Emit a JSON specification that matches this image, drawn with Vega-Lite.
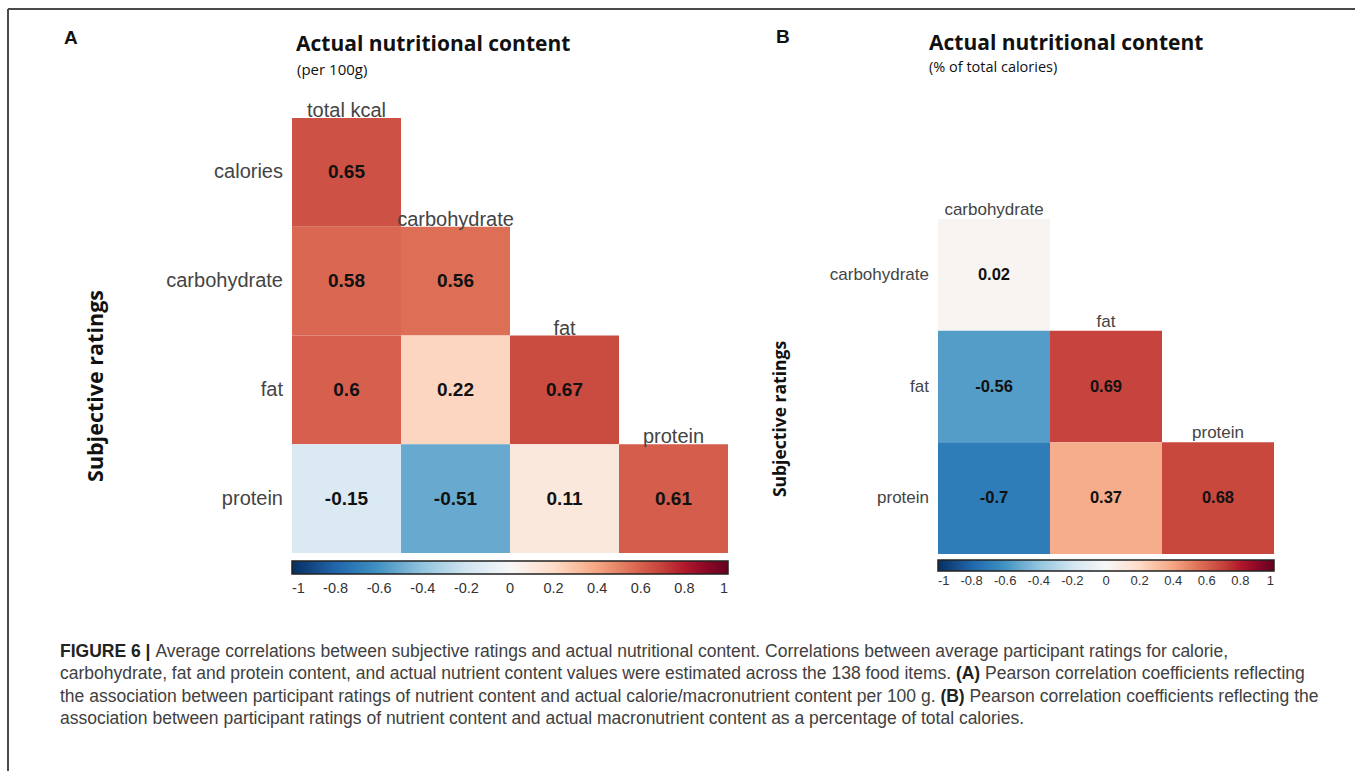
{
"$schema": "https://vega.github.io/schema/vega-lite/v6.json",
"width": 1355, "height": 771,
"autosize": {"type": "none"},
"padding": 0,
"background": "white",
"config": {"view": {"stroke": null}},
"datasets": {
 "cellsA": [
  {"row":"calories","col":"total kcal","r":0.65},
  {"row":"carbohydrate","col":"total kcal","r":0.58},
  {"row":"carbohydrate","col":"carbohydrate","r":0.56},
  {"row":"fat","col":"total kcal","r":0.6},
  {"row":"fat","col":"carbohydrate","r":0.22},
  {"row":"fat","col":"fat","r":0.67},
  {"row":"protein","col":"total kcal","r":-0.15},
  {"row":"protein","col":"carbohydrate","r":-0.51},
  {"row":"protein","col":"fat","r":0.11},
  {"row":"protein","col":"protein","r":0.61}
 ],
 "colsA": [
  {"col":"total kcal","row":"calories"},
  {"col":"carbohydrate","row":"carbohydrate"},
  {"col":"fat","row":"fat"},
  {"col":"protein","row":"protein"}
 ],
 "rowsA": [{"row":"calories"},{"row":"carbohydrate"},{"row":"fat"},{"row":"protein"}],
 "cellsB": [
  {"row":"carbohydrate","col":"carbohydrate","r":0.02},
  {"row":"fat","col":"carbohydrate","r":-0.56},
  {"row":"fat","col":"fat","r":0.69},
  {"row":"protein","col":"carbohydrate","r":-0.7},
  {"row":"protein","col":"fat","r":0.37},
  {"row":"protein","col":"protein","r":0.68}
 ],
 "colsB": [
  {"col":"carbohydrate","row":"carbohydrate"},
  {"col":"fat","row":"fat"},
  {"col":"protein","row":"protein"}
 ],
 "rowsB": [{"row":"carbohydrate"},{"row":"fat"},{"row":"protein"}],
 "caption": [
  {"line":1,"seg":"b","text":"FIGURE 6 |"},
  {"line":1,"seg":"c","text":"Average correlations between subjective ratings and actual nutritional content. Correlations between average participant ratings for calorie,"},
  {"line":2,"seg":"a","text":"carbohydrate, fat and protein content, and actual nutrient content values were estimated across the 138 food items."},
  {"line":2,"seg":"b","text":"(A)"},
  {"line":2,"seg":"c","text":"Pearson correlation coefficients reflecting"},
  {"line":3,"seg":"a","text":"the association between participant ratings of nutrient content and actual calorie/macronutrient content per 100 g."},
  {"line":3,"seg":"b","text":"(B)"},
  {"line":3,"seg":"c","text":"Pearson correlation coefficients reflecting the"},
  {"line":4,"seg":"a","text":"association between participant ratings of nutrient content and actual macronutrient content as a percentage of total calories."}
 ]
},
"layer": [
 {"data": {"values": [{}]}, "mark": {"type": "rule", "color": "#4a4a4a", "strokeWidth": 2},
  "encoding": {"x": {"value": 8}, "y": {"value": 9}, "y2": {"value": 771}}},
 {"data": {"values": [{}]}, "mark": {"type": "rule", "color": "#4a4a4a", "strokeWidth": 2},
  "encoding": {"y": {"value": 9}, "x": {"value": 8}, "x2": {"value": 1355}}},
 {
  "data": {"name": "cellsA"},
  "encoding": {
   "x": {"field": "col", "type": "nominal", "scale": {"domain": ["total kcal","carbohydrate","fat","protein"], "rangeMin": 292, "rangeMax": 728, "paddingInner": 0, "paddingOuter": 0}, "axis": null},
   "y": {"field": "row", "type": "nominal", "scale": {"domain": ["calories","carbohydrate","fat","protein"], "rangeMin": 118, "rangeMax": 553, "paddingInner": 0, "paddingOuter": 0}, "axis": null}
  },
  "layer": [
   {"mark": {"type": "rect"},
    "encoding": {"color": {"field": "r", "type": "quantitative",
      "scale": {"domain": [-1,-0.8,-0.6,-0.4,-0.2,0,0.2,0.4,0.6,0.8,1], "range": ["#053061","#2166AC","#4393C3","#92C5DE","#D1E5F0","#F7F7F7","#FDDBC7","#F4A582","#D6604D","#B2182B","#67001F"]},
      "legend": {"orient": "none", "legendX": 292, "legendY": 561, "direction": "horizontal", "gradientLength": 436, "gradientThickness": 13, "title": null, "padding": 0,
        "values": [-1,-0.8,-0.6,-0.4,-0.2,0,0.2,0.4,0.6,0.8,1], "labelExpr": "toString(datum.value)", "labelOverlap": false,
        "labelFont": "Liberation Sans", "labelFontSize": 14.5, "labelColor": "#333", "labelOffset": 8, "labelAlign": "center",
        "gradientStrokeColor": "#222", "gradientStrokeWidth": 1.5}}}},
   {"mark": {"type": "text", "font": "Liberation Sans", "fontSize": 19, "fontWeight": "bold", "color": "#111"},
    "encoding": {"text": {"field": "r", "type": "nominal"}}},
   {"data": {"name": "rowsA"},
    "mark": {"type": "text", "align": "right", "dx": -9, "font": "Liberation Sans", "fontSize": 20, "color": "#444"},
    "encoding": {"x": {"datum": "total kcal", "type": "nominal", "bandPosition": 0}, "text": {"field": "row", "type": "nominal"}}},
   {"data": {"name": "colsA"},
    "mark": {"type": "text", "baseline": "alphabetic", "dy": -1, "font": "Liberation Sans", "fontSize": 20, "color": "#444"},
    "encoding": {"y": {"field": "row", "type": "nominal", "bandPosition": 0}, "text": {"field": "col", "type": "nominal"}}}
  ]
 },
 {
  "data": {"name": "cellsB"},
  "encoding": {
   "x": {"field": "col", "type": "nominal", "scale": {"domain": ["carbohydrate","fat","protein"], "rangeMin": 938, "rangeMax": 1274, "paddingInner": 0, "paddingOuter": 0}, "axis": null},
   "y": {"field": "row", "type": "nominal", "scale": {"domain": ["carbohydrate","fat","protein"], "rangeMin": 219, "rangeMax": 554, "paddingInner": 0, "paddingOuter": 0}, "axis": null}
  },
  "layer": [
   {"mark": {"type": "rect"},
    "encoding": {"color": {"field": "r", "type": "quantitative",
      "scale": {"domain": [-1,-0.8,-0.6,-0.4,-0.2,0,0.2,0.4,0.6,0.8,1], "range": ["#053061","#2166AC","#4393C3","#92C5DE","#D1E5F0","#F7F7F7","#FDDBC7","#F4A582","#D6604D","#B2182B","#67001F"]},
      "legend": {"orient": "none", "legendX": 938, "legendY": 560, "direction": "horizontal", "gradientLength": 336, "gradientThickness": 11, "title": null, "padding": 0,
        "values": [-1,-0.8,-0.6,-0.4,-0.2,0,0.2,0.4,0.6,0.8,1], "labelExpr": "toString(datum.value)", "labelOverlap": false,
        "labelFont": "Liberation Sans", "labelFontSize": 13, "labelColor": "#333", "labelOffset": 4, "labelAlign": "center",
        "gradientStrokeColor": "#222", "gradientStrokeWidth": 1.5}}}},
   {"mark": {"type": "text", "font": "Liberation Sans", "fontSize": 16.5, "fontWeight": "bold", "color": "#111"},
    "encoding": {"text": {"field": "r", "type": "nominal"}}},
   {"data": {"name": "rowsB"},
    "mark": {"type": "text", "align": "right", "dx": -9, "font": "Liberation Sans", "fontSize": 17, "color": "#444"},
    "encoding": {"x": {"datum": "carbohydrate", "type": "nominal", "bandPosition": 0}, "text": {"field": "row", "type": "nominal"}}},
   {"data": {"name": "colsB"},
    "mark": {"type": "text", "baseline": "alphabetic", "dy": -4, "font": "Liberation Sans", "fontSize": 17, "color": "#444"},
    "encoding": {"y": {"field": "row", "type": "nominal", "bandPosition": 0}, "text": {"field": "col", "type": "nominal"}}}
  ]
 },
 {"data": {"values": [{}]}, "mark": {"type": "text", "text": "A", "x": 64, "y": 44, "align": "left", "baseline": "alphabetic", "font": "Liberation Sans", "fontSize": 19, "fontWeight": "bold", "color": "#111"}},
 {"data": {"values": [{}]}, "mark": {"type": "text", "text": "B", "x": 776, "y": 43, "align": "left", "baseline": "alphabetic", "font": "Liberation Sans", "fontSize": 19, "fontWeight": "bold", "color": "#111"}},
 {"data": {"values": [{}]}, "mark": {"type": "text", "text": "Actual nutritional content", "x": 296, "y": 51, "align": "left", "baseline": "alphabetic", "font": "Open Sans", "fontSize": 21, "fontWeight": "bold", "color": "#111"}},
 {"data": {"values": [{}]}, "mark": {"type": "text", "text": "(per 100g)", "x": 297, "y": 75, "align": "left", "baseline": "alphabetic", "font": "Open Sans", "fontSize": 15, "color": "#111"}},
 {"data": {"values": [{}]}, "mark": {"type": "text", "text": "Actual nutritional content", "x": 929, "y": 50, "align": "left", "baseline": "alphabetic", "font": "Open Sans", "fontSize": 21, "fontWeight": "bold", "color": "#111"}},
 {"data": {"values": [{}]}, "mark": {"type": "text", "text": "(% of total calories)", "x": 929, "y": 72, "align": "left", "baseline": "alphabetic", "font": "Open Sans", "fontSize": 14.5, "color": "#111"}},
 {"data": {"values": [{}]}, "mark": {"type": "text", "text": "Subjective ratings", "x": 97, "y": 386, "angle": 270, "align": "center", "baseline": "middle", "font": "Open Sans", "fontSize": 21.5, "fontWeight": "bold", "color": "#111"}},
 {"data": {"values": [{}]}, "mark": {"type": "text", "text": "Subjective ratings", "x": 781, "y": 419, "angle": 270, "align": "center", "baseline": "middle", "font": "Open Sans", "fontSize": 17.5, "fontWeight": "bold", "color": "#111"}},
 {
  "data": {"name": "caption"},
  "encoding": {
   "y": {"field": "line", "type": "ordinal", "scale": {"type": "point", "domain": [1,2,3,4], "rangeMin": 652, "rangeMax": 719, "padding": 0}, "axis": null},
   "text": {"field": "text", "type": "nominal"}
  },
  "layer": [
   {"transform": [{"filter": "datum.seg == 'a'"}],
    "mark": {"type": "text", "x": 60, "align": "left", "baseline": "middle", "font": "Liberation Sans", "fontSize": 17.5, "color": "#404040"}},
   {"transform": [{"filter": "datum.line == 1 && datum.seg == 'b'"}],
    "mark": {"type": "text", "x": 60, "align": "left", "baseline": "middle", "font": "Liberation Sans", "fontSize": 17.5, "fontWeight": "bold", "color": "#222"}},
   {"transform": [{"filter": "datum.line == 1 && datum.seg == 'c'"}],
    "mark": {"type": "text", "x": 155.4, "align": "left", "baseline": "middle", "font": "Liberation Sans", "fontSize": 17.5, "color": "#404040"}},
   {"transform": [{"filter": "datum.line == 2 && datum.seg == 'b'"}],
    "mark": {"type": "text", "x": 955.9, "align": "left", "baseline": "middle", "font": "Liberation Sans", "fontSize": 17.5, "fontWeight": "bold", "color": "#222"}},
   {"transform": [{"filter": "datum.line == 2 && datum.seg == 'c'"}],
    "mark": {"type": "text", "x": 985.1, "align": "left", "baseline": "middle", "font": "Liberation Sans", "fontSize": 17.5, "color": "#404040"}},
   {"transform": [{"filter": "datum.line == 3 && datum.seg == 'b'"}],
    "mark": {"type": "text", "x": 940.4, "align": "left", "baseline": "middle", "font": "Liberation Sans", "fontSize": 17.5, "fontWeight": "bold", "color": "#222"}},
   {"transform": [{"filter": "datum.line == 3 && datum.seg == 'c'"}],
    "mark": {"type": "text", "x": 969.6, "align": "left", "baseline": "middle", "font": "Liberation Sans", "fontSize": 17.5, "color": "#404040"}}
  ]
 }
],
"resolve": {"scale": {"x": "independent", "y": "independent", "color": "independent"}, "legend": {"color": "independent"}}
}
